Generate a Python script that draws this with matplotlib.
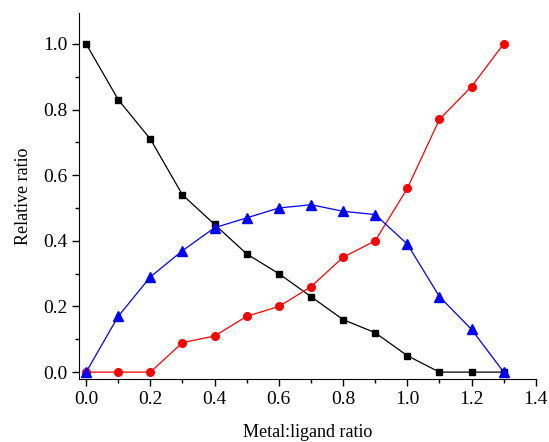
import numpy as np
import matplotlib
matplotlib.use('Agg')
import matplotlib.pyplot as plt
from matplotlib.ticker import MultipleLocator

plt.rcParams['font.family'] = ['Liberation Serif', 'DejaVu Serif']

x = [0.0, 0.1, 0.2, 0.3, 0.4, 0.5, 0.6, 0.7, 0.8, 0.9, 1.0, 1.1, 1.2, 1.3]
black = [1.0, 0.83, 0.71, 0.54, 0.45, 0.36, 0.30, 0.23, 0.16, 0.12, 0.05, 0.0, 0.0, 0.0]
red = [0.0, 0.0, 0.0, 0.09, 0.11, 0.17, 0.20, 0.26, 0.35, 0.40, 0.56, 0.77, 0.87, 1.0]
blue = [0.0, 0.17, 0.29, 0.37, 0.44, 0.47, 0.50, 0.51, 0.49, 0.48, 0.39, 0.23, 0.13, 0.0]

fig = plt.figure(figsize=(5.49, 4.42), dpi=100)
ax = fig.add_axes([0.144, 0.1425, 0.832, 0.828])

ax.plot(x, black, color='black', marker='s', markersize=5, lw=0.9)
ax.plot(x, red, color='red', marker='o', markersize=5.5, lw=0.9)
ax.plot(x, blue, color='blue', marker='^', markersize=7, lw=0.9)

ax.set_xlim(-0.022, 1.4)
ax.set_ylim(-0.021, 1.094)
ax.xaxis.set_major_locator(MultipleLocator(0.2))
ax.xaxis.set_minor_locator(MultipleLocator(0.1))
ax.yaxis.set_major_locator(MultipleLocator(0.2))
ax.yaxis.set_minor_locator(MultipleLocator(0.1))
ax.xaxis.set_major_formatter(plt.FormatStrFormatter('%.1f'))
ax.yaxis.set_major_formatter(plt.FormatStrFormatter('%.1f'))

ax.spines['top'].set_visible(False)
ax.spines['right'].set_visible(False)
ax.tick_params(direction='out', which='major', length=5, width=1, labelsize=14)
ax.tick_params(direction='out', which='minor', length=3, width=1)

ax.set_xlabel('Metal:ligand ratio', fontsize=13, labelpad=12)
ax.set_ylabel('Relative ratio', fontsize=13, labelpad=8)

fig.savefig('out.png', dpi=100)
